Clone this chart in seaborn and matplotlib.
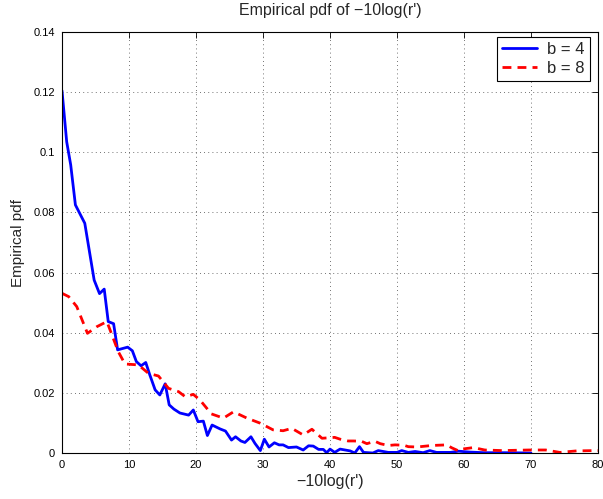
import numpy as np
import pandas as pd
import matplotlib
matplotlib.use("Agg")
import matplotlib.pyplot as plt
import seaborn as sns

# ---- data ----
b4_x = [0, 0.7, 1.3, 2.0, 3.4, 4.8, 5.6, 6.3, 6.9, 7.7, 8.3, 9.8, 10.5, 11.1, 11.8,
        12.5, 13.1, 13.9, 14.6, 15.4, 16.0, 16.7, 17.6, 18.9, 19.6, 20.3, 21.1, 21.7,
        22.4, 23.6, 24.4, 25.3, 25.9, 26.7, 27.3, 28.2, 28.8, 29.6, 30.2, 30.9, 31.7,
        32.4, 33.0, 33.8, 35.0, 36.0, 36.8, 37.5, 38.3, 39.0, 39.5, 40.0, 40.7, 41.5,
        43.0, 43.7, 44.4, 45.0, 46.4, 47.2, 48.7, 50.0, 50.7, 51.7, 52.7, 53.9, 54.9,
        55.9, 58.0, 59.2, 60.9, 63.0, 66.0, 70.0]
b4_y = [0.1205, 0.1035, 0.0958, 0.0825, 0.0764, 0.0575, 0.053, 0.0545, 0.0437, 0.043,
        0.0343, 0.0352, 0.034, 0.0304, 0.029, 0.0301, 0.026, 0.021, 0.0193, 0.023,
        0.016, 0.0146, 0.0133, 0.0126, 0.0143, 0.0104, 0.0106, 0.0058, 0.0093, 0.008,
        0.0073, 0.0043, 0.0054, 0.004, 0.0035, 0.0054, 0.0032, 0.0008, 0.0046, 0.002,
        0.0034, 0.0027, 0.0027, 0.0018, 0.002, 0.001, 0.0024, 0.0023, 0.0012, 0.0012,
        0.0001, 0.0013, 0.0002, 0.0013, 0.0007, 0.0, 0.0021, 0.0002, 0.0, 0.0008,
        0.0002, 0.0002, 0.0008, 0.0002, 0.0005, 0.0001, 0.0008, 0.0002, 0.0002,
        0.0006, 0.0003, 0.0001, 0.0001, 0.0]

b8_x = [0, 1.0, 2.2, 3.8, 5.2, 6.7, 8.4, 9.4, 11.4, 12.9, 14.4, 15.9, 17.4, 18.4, 19.6,
        20.6, 22.3, 24.1, 25.6, 27.6, 29.6, 31.5, 33.0, 34.3, 36.0, 37.3, 38.8, 40.7,
        41.5, 42.7, 43.5, 44.7, 45.5, 46.7, 47.5, 48.7, 49.7, 51.0, 51.7, 53.0, 55.2,
        57.4, 58.2, 59.2, 59.7, 61.4, 63.1, 65.7, 69.7, 72.2, 74.3, 76.8, 79.6, 80.0]
b8_y = [0.0531, 0.0520, 0.0487, 0.0398, 0.042, 0.0437, 0.0337, 0.0296, 0.0293, 0.0265,
        0.0256, 0.0215, 0.0204, 0.0187, 0.0195, 0.0176, 0.013, 0.0116, 0.0137, 0.0116,
        0.0099, 0.0077, 0.0074, 0.0082, 0.006, 0.0079, 0.0049, 0.0052, 0.0046, 0.004,
        0.004, 0.0039, 0.0031, 0.0039, 0.0031, 0.0025, 0.0027, 0.0026, 0.0021, 0.002,
        0.0025, 0.0027, 0.0017, 0.0007, 0.0013, 0.0018, 0.001, 0.0008, 0.001, 0.001,
        0.0002, 0.0007, 0.0008, 0.0008]

series_labels = ["b = 4", "b = 8"]
x_ticks = [0, 10, 20, 30, 40, 50, 60, 70, 80]
y_ticks = [0, 0.02, 0.04, 0.06, 0.08, 0.1, 0.12, 0.14]
y_tick_labels = ["0", "0.02", "0.04", "0.06", "0.08", "0.1", "0.12", "0.14"]

df = pd.concat([
    pd.DataFrame({"x": b4_x, "y": b4_y, "series": series_labels[0]}),
    pd.DataFrame({"x": b8_x, "y": b8_y, "series": series_labels[1]}),
], ignore_index=True)

sns.set_style("white")
plt.rcParams["font.family"] = ["Liberation Sans", "DejaVu Sans"]

fig = plt.figure(figsize=(6.03, 4.99), dpi=100)
ax = fig.add_axes([62 / 603, 1 - 453 / 499, 536 / 603, 421 / 499])

sns.lineplot(data=df, x="x", y="y", hue="series", style="series",
             palette={"b = 4": "#0000ff", "b = 8": "#ff0000"},
             dashes={"b = 4": "", "b = 8": (3.2, 2.2)},
             estimator=None, sort=False, linewidth=2, ax=ax)

ax.set_xlim(0, 80)
ax.set_ylim(0, 0.14)
ax.set_xticks(x_ticks)
ax.set_xticklabels([str(t) for t in x_ticks])
ax.set_yticks(y_ticks)
ax.set_yticklabels(y_tick_labels)
ax.tick_params(direction="in", length=4, width=0.6, labelsize=8, colors="black",
               top=True, right=True, pad=5)
ax.grid(True, linestyle=(0, (1, 4)), color="#444444", linewidth=0.6)
for s in ax.spines.values():
    s.set_visible(True)
    s.set_color("black")
    s.set_linewidth(0.8)

ax.set_xlabel("\u221210log(r')", fontsize=11.5, labelpad=3)
ax.set_ylabel("Empirical pdf", fontsize=11, labelpad=6)
ax.set_title("Empirical pdf of \u221210log(r')", fontsize=11.5, pad=12)

leg = ax.legend(loc="upper right", bbox_to_anchor=(0.985, 0.988), fontsize=12,
                frameon=True, fancybox=False, edgecolor="black", framealpha=1,
                borderaxespad=0, handlelength=2.1, handletextpad=0.6,
                labelspacing=0.25, borderpad=0.3)
leg.get_frame().set_linewidth(0.8)
leg.set_title(None)

fig.savefig("out.png", dpi=100)
